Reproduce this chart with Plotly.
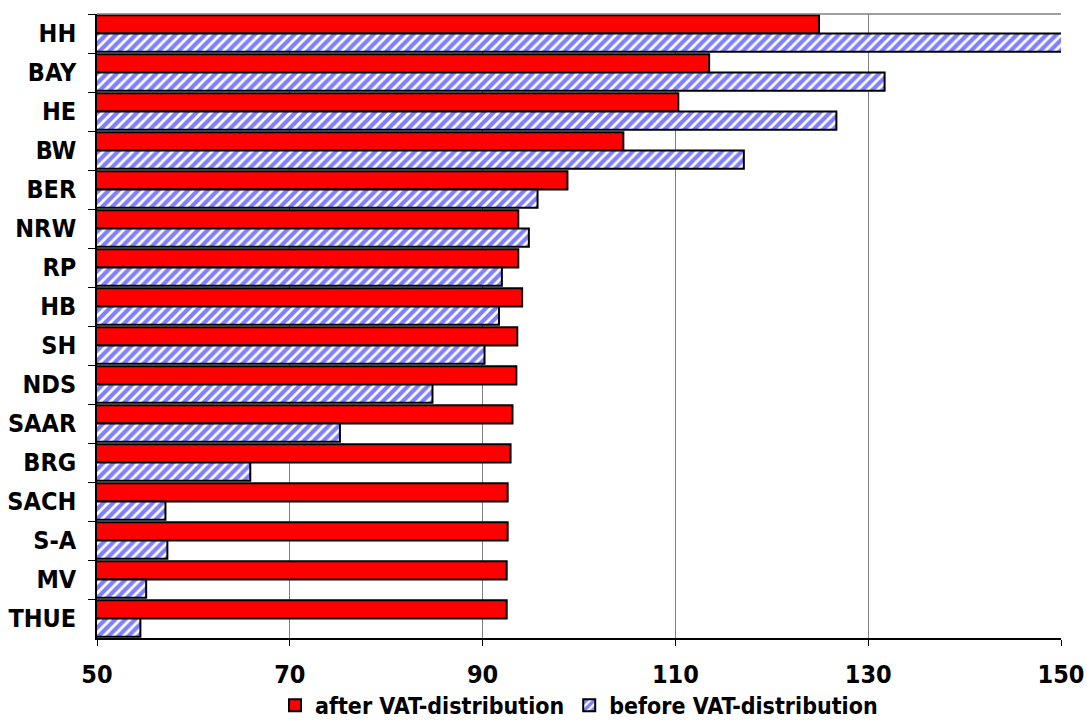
import plotly.graph_objects as go

# German states, ordered top to bottom
states = ["HH", "BAY", "HE", "BW", "BER", "NRW", "RP", "HB",
          "SH", "NDS", "SAAR", "BRG", "SACH", "S-A", "MV", "THUE"]

# Index values after VAT distribution
after_vat = [124.9, 113.5, 110.3, 104.6, 98.8, 93.7, 93.7, 94.1,
             93.6, 93.5, 93.1, 92.9, 92.6, 92.6, 92.5, 92.5]

# Index values before VAT distribution
before_vat = [152.0, 131.7, 126.7, 117.1, 95.7, 94.8, 92.0, 91.7,
              90.2, 84.8, 75.2, 65.9, 57.1, 57.3, 55.1, 54.5]

x_ticks = [50, 70, 90, 110, 130, 150]

FONT = "DejaVu Sans Condensed, Liberation Sans Narrow, Arial Narrow, sans-serif"

fig = go.Figure()

fig.add_trace(go.Bar(
    y=states, x=after_vat, orientation="h",
    name="after VAT-distribution",
    marker=dict(color="#FF0000", line=dict(color="black", width=2)),
))

fig.add_trace(go.Bar(
    y=states, x=before_vat, orientation="h",
    name="before VAT-distribution",
    marker=dict(
        color="white",
        line=dict(color="black", width=2),
        pattern=dict(shape="/", fgcolor="#0000FF", bgcolor="white",
                     size=7, solidity=0.6, fillmode="overlay"),
    ),
))

fig.update_layout(
    width=1087, height=720,
    margin=dict(l=97, r=26, t=14, b=82, autoexpand=False),
    paper_bgcolor="white", plot_bgcolor="white",
    barmode="group", bargap=0.07, bargroupgap=0.0,
    font=dict(family=FONT, size=22, color="black"),
    legend=dict(
        orientation="h", x=0.5, xanchor="center",
        y=-0.108, yanchor="middle",
        font=dict(family=FONT, size=23, color="black", weight="bold"),
        itemwidth=30, traceorder="normal",
        bgcolor="rgba(0,0,0,0)",
    ),
    showlegend=True,
)

fig.update_xaxes(
    range=[50, 150], tickvals=x_ticks,
    showgrid=True, gridcolor="#808080", gridwidth=1,
    showline=True, linecolor="black", linewidth=1.5,
    ticks="outside", ticklen=6, tickcolor="black",
    ticklabelstandoff=7, automargin=False,
    tickfont=dict(family=FONT, size=25, color="black", weight="bold"),
    zeroline=False,
)

fig.update_yaxes(
    categoryorder="array", categoryarray=states,
    autorange="reversed",
    showgrid=False,
    showline=True, linecolor="black", linewidth=1.5,
    ticks="outside", tickson="boundaries", ticklen=7, tickcolor="black",
    ticklabelstandoff=14, automargin=False,
    tickfont=dict(family=FONT, size=25, color="black", weight="bold"),
)

# light grey frame along the top of the plotting area
fig.add_shape(type="line", xref="paper", yref="paper",
              x0=0, x1=1, y0=1, y1=1,
              line=dict(color="#808080", width=1.5))

fig.write_html("out.html")
